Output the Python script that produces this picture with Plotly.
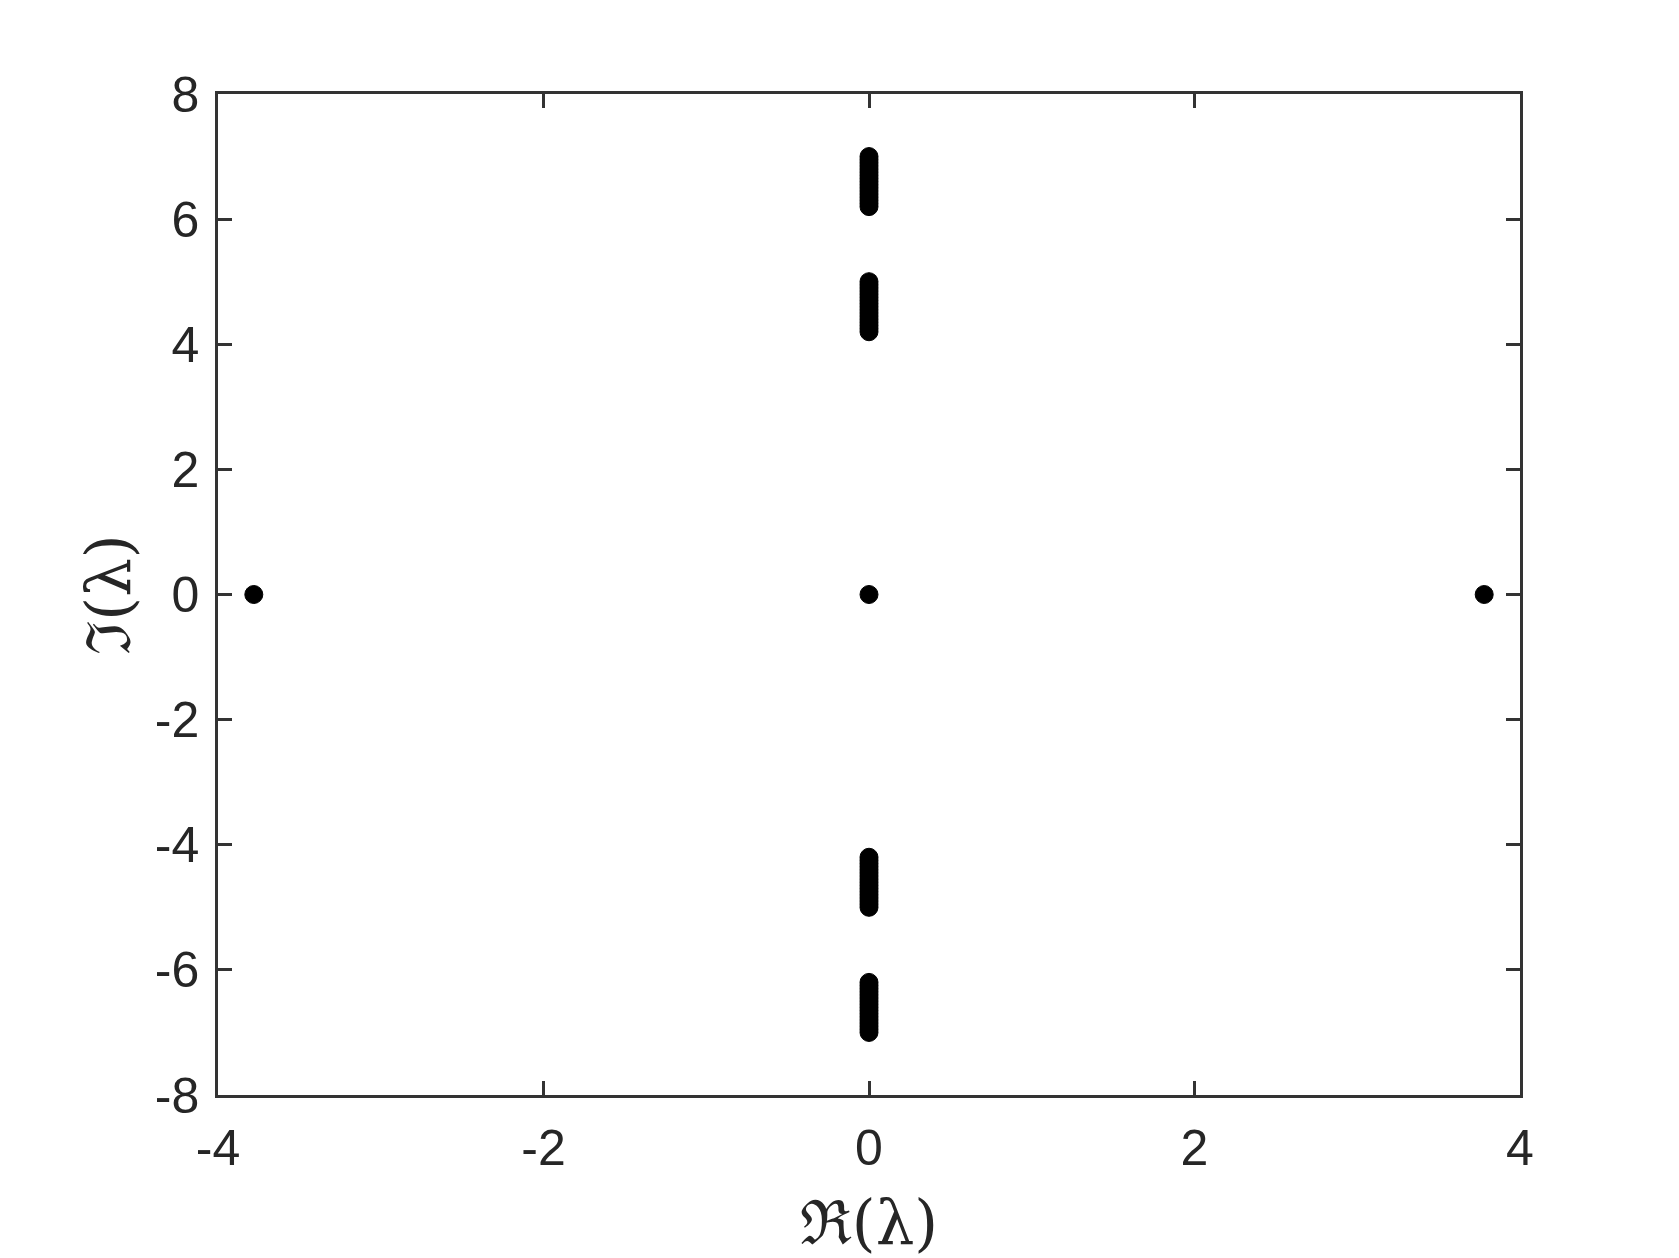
import plotly.graph_objects as go

real_outliers = [-3.78, 0.0, 3.78]
imag_outliers = [0.0, 0.0, 0.0]

band_upper_high = [6.2, 6.25, 6.3, 6.35, 6.4, 6.45, 6.5, 6.55, 6.6,
                   6.65, 6.7, 6.75, 6.8, 6.85, 6.9, 6.95, 7.0]
band_upper_low = [4.2, 4.25, 4.3, 4.35, 4.4, 4.45, 4.5, 4.55, 4.6,
                  4.65, 4.7, 4.75, 4.8, 4.85, 4.9, 4.95, 5.0]
band_lower_low = [-4.2, -4.25, -4.3, -4.35, -4.4, -4.45, -4.5, -4.55, -4.6,
                  -4.65, -4.7, -4.75, -4.8, -4.85, -4.9, -4.95, -5.0]
band_lower_high = [-6.2, -6.25, -6.3, -6.35, -6.4, -6.45, -6.5, -6.55, -6.6,
                   -6.65, -6.7, -6.75, -6.8, -6.85, -6.9, -6.95, -7.0]

x_ticks = [-4, -2, 0, 2, 4]
y_ticks = [-8, -6, -4, -2, 0, 2, 4, 6, 8]

imag_band = band_upper_high + band_upper_low + band_lower_low + band_lower_high
real_band = [0.0] * len(imag_band)

marker = dict(color="black", size=18, line=dict(color="black", width=1))

fig = go.Figure()
fig.add_trace(go.Scatter(x=real_band, y=imag_band, mode="markers",
                         marker=marker, showlegend=False))
fig.add_trace(go.Scatter(x=real_outliers, y=imag_outliers, mode="markers",
                         marker=marker, showlegend=False))

axis_style = dict(
    showgrid=False,
    zeroline=False,
    showline=True,
    linecolor="#333333",
    linewidth=2.5,
    mirror="ticks",
    ticks="inside",
    ticklen=14,
    tickwidth=2.5,
    tickcolor="#333333",
    tickfont=dict(family="Liberation Sans, Arial, sans-serif", size=50,
                  color="#262626"),
)

fig.update_xaxes(
    range=[-4, 4],
    tickvals=x_ticks,
    ticktext=[str(v) for v in x_ticks],
    ticklabelstandoff=7,
    title=dict(text="ℜ(λ)", standoff=27,
               font=dict(family="DejaVu Serif, serif", size=61, color="#262626")),
    **axis_style,
)
fig.update_yaxes(
    range=[-8, 8],
    tickvals=y_ticks,
    ticktext=[str(v) for v in y_ticks],
    ticklabelstandoff=6,
    title=dict(text="ℑ(λ)", standoff=5,
               font=dict(family="DejaVu Serif, serif", size=61, color="#262626")),
    **axis_style,
)

fig.update_layout(
    width=1679,
    height=1258,
    margin=dict(l=210, r=167, t=86, b=171, autoexpand=False),
    plot_bgcolor="white",
    paper_bgcolor="white",
)

fig.write_html("out.html")
